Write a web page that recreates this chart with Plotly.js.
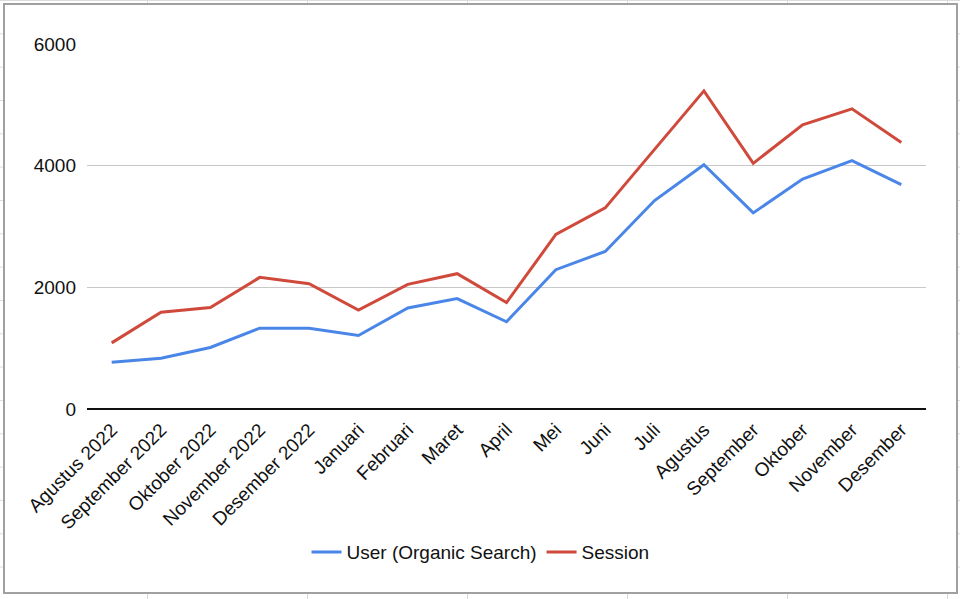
<!DOCTYPE html>
<html>
<head>
<meta charset="utf-8">
<script src="https://cdn.plot.ly/plotly-3.0.1.min.js"></script>
<style>
  html, body { margin: 0; padding: 0; width: 960px; height: 599px; overflow: hidden; }
  body {
    background-color: #fff;
    background-image:
      linear-gradient(to right, #dcdcdc 1px, transparent 1px),
      linear-gradient(to bottom, #dcdcdc 1px, transparent 1px);
    background-size: 160px 33.333px, 160px 33.333px;
    background-position: 147px 0, 0 0;
  }
  #chart {
    position: absolute; left: 3px; top: 3px;
    width: 951px; height: 587px;
    border: 2px solid #a0a0a0; background: #fff;
  }
</style>
</head>
<body>
<div id="chart"></div>
<script>
const months = ['Agustus 2022', 'September 2022', 'Oktober 2022', 'November 2022', 'Desember 2022',
  'Januari', 'Februari', 'Maret', 'April', 'Mei', 'Juni', 'Juli', 'Agustus', 'September',
  'Oktober', 'November', 'Desember']
const users = [770, 836, 1011, 1328, 1328, 1208, 1661, 1814, 1434, 2290, 2590, 3426, 4016, 3224, 3781, 4082, 3689]
const sessions = [1087, 1590, 1667, 2164, 2060, 1628, 2049, 2224, 1749, 2869, 3306, 4262, 5229, 4038, 4672, 4934, 4382]
const yTicks = [0, 2000, 4000, 6000]

const font = { family: 'Liberation Sans, Arial, sans-serif', size: 19, color: '#111' }

const traces = [
  { x: months, y: users, type: 'scatter', mode: 'lines', name: 'User (Organic Search)',
    line: { color: '#4a86e8', width: 3 } },
  { x: months, y: sessions, type: 'scatter', mode: 'lines', name: 'Session',
    line: { color: '#d04a3c', width: 3 } }
]

const layout = {
  width: 951,
  height: 587,
  margin: { l: 82, r: 30, t: 39, b: 183 },
  paper_bgcolor: '#fff',
  plot_bgcolor: '#fff',
  font: font,
  showlegend: true,
  legend: {
    orientation: 'h', xref: 'container', yref: 'container',
    x: 0.5, xanchor: 'center', y: 0.068, yanchor: 'middle',
    font: font, itemwidth: 30, tracegroupgap: 0
  },
  xaxis: {
    type: 'category',
    range: [-0.5, months.length - 0.5],
    tickangle: -45,
    tickfont: font,
    showgrid: false,
    showline: false,
    zeroline: false,
    ticks: '',
    ticklabelstandoff: 5
  },
  yaxis: {
    range: [0, 6000],
    tickvals: yTicks,
    ticktext: yTicks.map(String),
    tickfont: font,
    gridcolor: '#c8c8c8',
    gridwidth: 1,
    zeroline: true,
    zerolinecolor: '#111',
    zerolinewidth: 2,
    showline: false,
    ticks: '',
    ticklabelstandoff: 10
  },
  hovermode: false
}

Plotly.newPlot('chart', traces, layout, { displayModeBar: false, staticPlot: true })
</script>
</body>
</html>
